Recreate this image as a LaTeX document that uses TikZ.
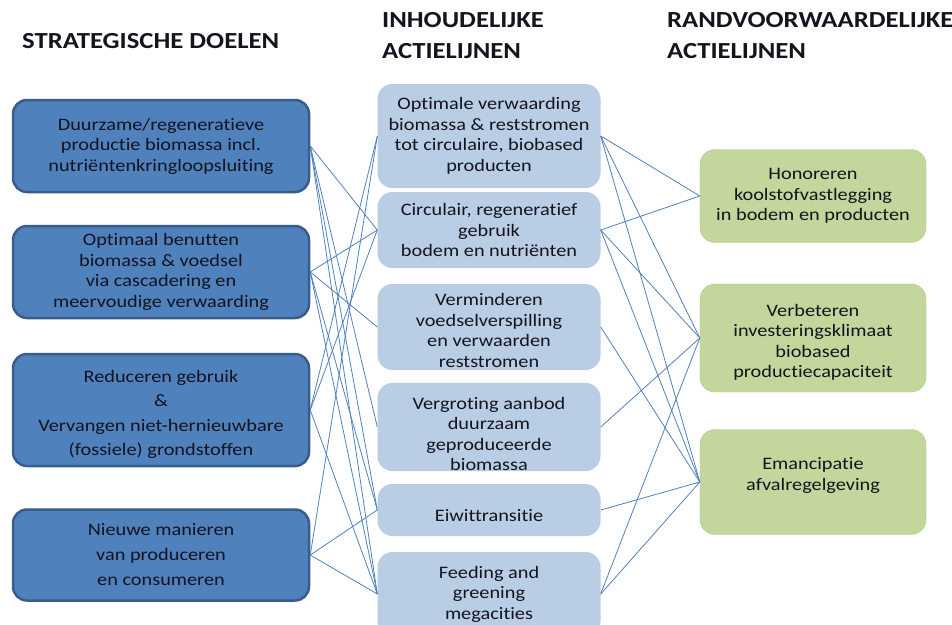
\documentclass[tikz,border=0pt]{standalone}
\usepackage{fontspec}
\setmainfont{Carlito}[FakeStretch=1.16,Ligatures=NoCommon]
\usepackage{tikz}
\usetikzlibrary{arrows,shapes}

\definecolor{doel}{RGB}{79,129,189}
\definecolor{doelrand}{RGB}{56,93,138}
\definecolor{inhoud}{RGB}{185,205,229}
\definecolor{rand}{RGB}{195,214,155}
\definecolor{lijn}{RGB}{79,129,189}
\definecolor{tekst}{RGB}{20,20,30}

\begin{document}
\begin{tikzpicture}[x=1pt,y=-1pt]
\tikzstyle{every node}=[font=\fontsize{17.5}{20.5}\selectfont,text=tekst,align=center,inner sep=0pt];
\tikzstyle{doel}=[draw=doelrand,line width=2.5pt,fill=doel,rounded corners=14pt,minimum width=296pt];
\tikzstyle{inhoud}=[fill=inhoud,rounded corners=15pt,minimum width=223pt];
\tikzstyle{rand}=[fill=rand,draw=rand!92!black,rounded corners=15pt,minimum width=226pt];
\tikzstyle{kop}=[anchor=north west,align=left,font=\fontsize{23}{31}\selectfont\bfseries];
\tikzstyle{lijn}=[draw=lijn,line width=0.8pt];
\useasboundingbox (0,0) rectangle (952,624);

% kopjes
\node[kop] (kdoel) at (22,33) {STRATEGISCHE DOELEN};
\node[kop] (kinh) at (382,12) {INHOUDELIJKE\\ACTIELIJNEN};
\node[kop] (krand) at (667,12) {RANDVOORWAARDELIJKE\\ACTIELIJNEN};

% strategische doelen
\node[doel,minimum height=92pt] (d1) at (161,146) {Duurzame/regeneratieve\\productie biomassa incl.\\nutriëntenkringloopsluiting};
\node[doel,minimum height=92pt] (d2) at (161,272) {Optimaal benutten\\biomassa \& voedsel\\via cascadering  en\\meervoudige verwaarding};
\node[doel,minimum height=112pt,font=\fontsize{17.5}{24.5}\selectfont] (d3) at (161,410) {\rule{0pt}{20.5pt}Reduceren gebruik\\\&\\Vervangen niet-hernieuwbare\\(fossiele) grondstoffen};
\node[doel,minimum height=91pt,font=\fontsize{17.5}{25}\selectfont] (d4) at (161,555) {Nieuwe manieren\\van produceren\\en consumeren};

% inhoudelijke actielijnen
\node[inhoud,minimum height=104pt] (i1) at (489,136) {Optimale verwaarding\\biomassa \& reststromen\\tot circulaire, biobased\\producten};
\node[inhoud,minimum height=76pt] (i2) at (489,230) {Circulair, regeneratief\\gebruik\\bodem en nutriënten};
\node[inhoud,minimum height=86pt] (i3) at (489,327) {\rule{0pt}{19.5pt}Verminderen\\voedselverspilling\\en verwaarden\\reststromen};
\node[inhoud,minimum height=86pt] (i4) at (489,427) {\rule{0pt}{26.5pt}Vergroting aanbod\\duurzaam\\geproduceerde\\biomassa};
\node[inhoud,minimum height=52pt] (i5) at (489,510) {\rule{0pt}{22.5pt}Eiwittransitie};
\node[inhoud,minimum height=84pt] (i6) at (489,594) {Feeding and\\greening\\megacities};

% randvoorwaardelijke actielijnen
\node[rand,minimum height=93pt] (r1) at (813,196) {Honoreren\\koolstofvastlegging\\in bodem en producten};
\node[rand,minimum height=108pt] (r2) at (813,338) {\rule{0pt}{20.5pt}Verbeteren\\investeringsklimaat\\biobased\\productiecapaciteit};
\node[rand,minimum height=105pt] (r3) at (813,482) {Emancipatie\\afvalregelgeving\rule[-16pt]{0pt}{16pt}};

% verbindingen links
\draw [lijn] (d1.east) -- (i2.west);
\draw [lijn] (d1.east) -- (i4.west);
\draw [lijn] (d1.east) -- (i5.west);
\draw [lijn] (d1.east) -- (i6.west);
\draw [lijn] (d2.east) -- (i2.west);
\draw [lijn] (d2.east) -- (i3.west);
\draw [lijn] (d2.east) -- (i5.west);
\draw [lijn] (d2.east) -- (i6.west);
\draw [lijn] (d3.east) -- (i1.west);
\draw [lijn] (d3.east) -- (i2.west);
\draw [lijn] (d3.east) -- (i6.west);
\draw [lijn] (d4.east) -- (i1.west);
\draw [lijn] (d4.east) -- (i5.west);
\draw [lijn] (d4.east) -- (i6.west);

% verbindingen rechts
\draw [lijn] (i1.east) -- (r1.west);
\draw [lijn] (i1.east) -- (r2.west);
\draw [lijn] (i1.east) -- (r3.west);
\draw [lijn] (i2.east) -- (r1.west);
\draw [lijn] (i2.east) -- (r2.west);
\draw [lijn] (i2.east) -- (r3.west);
\draw [lijn] (i3.east) -- (r3.west);
\draw [lijn] (i4.east) -- (r2.west);
\draw [lijn] (i5.east) -- (r3.west);
\draw [lijn] (i6.east) -- (r2.west);
\draw [lijn] (i6.east) -- (r3.west);
\end{tikzpicture}
\end{document}
